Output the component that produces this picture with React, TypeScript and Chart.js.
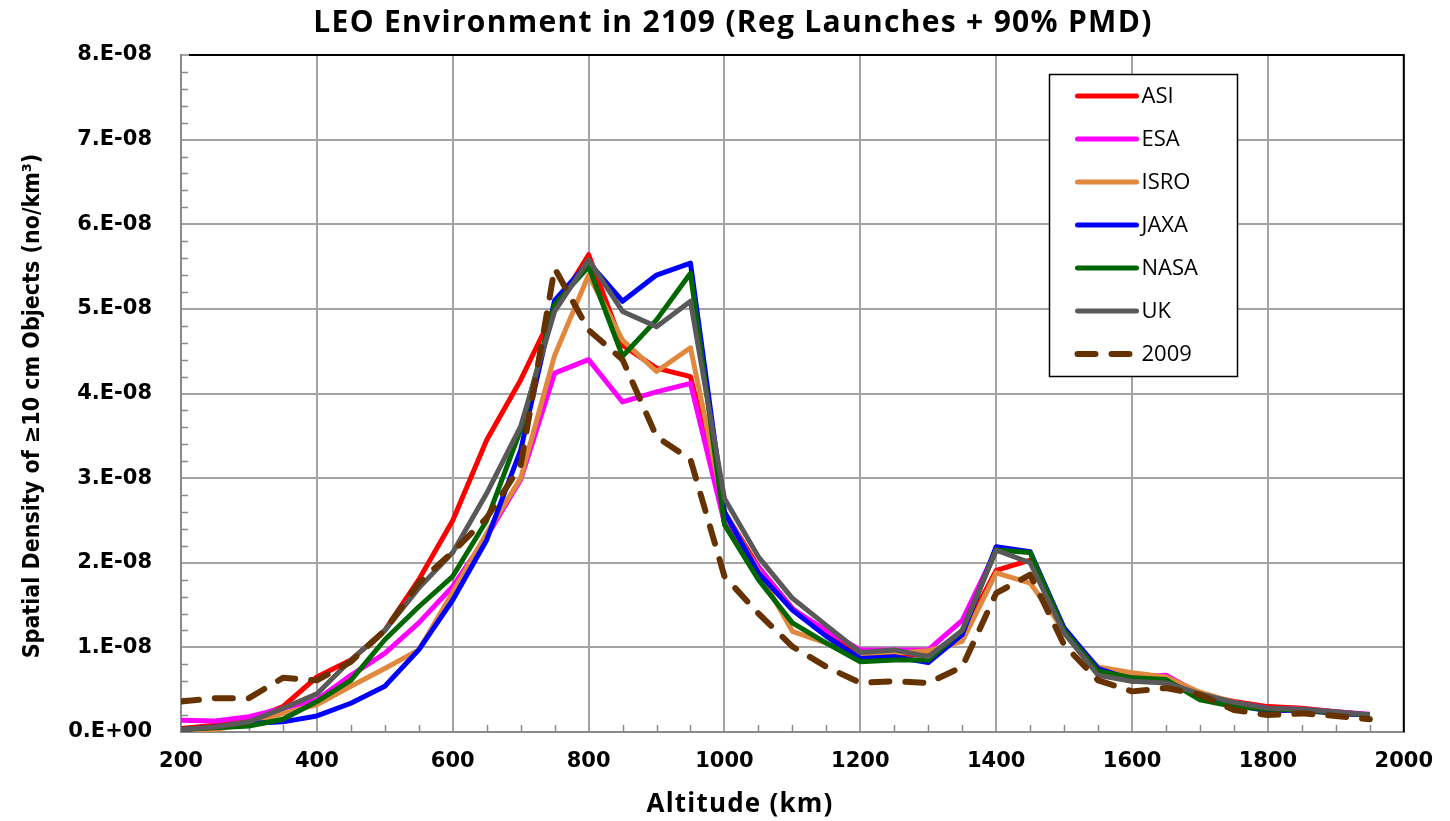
import React, { useEffect, useRef } from "react";
import { Chart, registerables } from "chart.js";

Chart.register(...registerables);

// Altitude bins (km)
const ALTITUDES = [
  200, 250, 300, 350, 400, 450, 500, 550, 600, 650, 700, 750, 800, 850, 900, 950,
  1000, 1050, 1100, 1150, 1200, 1250, 1300, 1350, 1400, 1450, 1500, 1550, 1600,
  1650, 1700, 1750, 1800, 1850, 1900, 1950,
];

// Spatial density in units of 1E-08 objects/km^3
const ASI = [
  0.04, 0.08, 0.14, 0.30, 0.65, 0.85, 1.20, 1.80, 2.50, 3.45, 4.16, 4.99, 5.64, 4.57, 4.30, 4.20,
  2.60, 1.95, 1.46, 1.17, 0.91, 0.93, 0.90, 1.15, 1.91, 2.03, 1.20, 0.70, 0.60, 0.60,
  0.44, 0.36, 0.30, 0.28, 0.24, 0.20,
];
const ESA = [
  0.14, 0.13, 0.18, 0.28, 0.38, 0.67, 0.93, 1.29, 1.72, 2.31, 2.98, 4.24, 4.40, 3.90, 4.02, 4.12,
  2.47, 1.95, 1.45, 1.20, 0.97, 0.97, 0.97, 1.32, 2.15, 2.13, 1.20, 0.72, 0.65, 0.67,
  0.45, 0.35, 0.28, 0.27, 0.24, 0.21,
];
const ISRO = [
  0.00, 0.03, 0.10, 0.22, 0.32, 0.54, 0.75, 0.97, 1.65, 2.35, 3.00, 4.45, 5.40, 4.63, 4.26, 4.54,
  2.60, 1.90, 1.19, 1.05, 0.89, 0.93, 0.96, 1.07, 1.88, 1.76, 1.20, 0.77, 0.70, 0.65,
  0.47, 0.35, 0.27, 0.25, 0.22, 0.20,
];
const JAXA = [
  0.03, 0.06, 0.10, 0.12, 0.19, 0.34, 0.54, 0.97, 1.56, 2.27, 3.33, 5.10, 5.55, 5.09, 5.40, 5.54,
  2.60, 1.88, 1.44, 1.13, 0.87, 0.89, 0.82, 1.15, 2.19, 2.13, 1.23, 0.75, 0.62, 0.60,
  0.42, 0.32, 0.25, 0.26, 0.22, 0.20,
];
const NASA = [
  0.03, 0.05, 0.07, 0.15, 0.36, 0.61, 1.09, 1.48, 1.84, 2.50, 3.57, 5.05, 5.50, 4.44, 4.87, 5.42,
  2.45, 1.80, 1.29, 1.05, 0.83, 0.85, 0.85, 1.20, 2.15, 2.12, 1.20, 0.72, 0.64, 0.62,
  0.38, 0.30, 0.27, 0.26, 0.23, 0.20,
];
const UK = [
  0.03, 0.06, 0.12, 0.28, 0.45, 0.85, 1.20, 1.70, 2.12, 2.82, 3.61, 4.97, 5.58, 4.97, 4.79, 5.09,
  2.76, 2.07, 1.58, 1.26, 0.94, 0.97, 0.89, 1.20, 2.15, 2.00, 1.17, 0.67, 0.60, 0.58,
  0.45, 0.35, 0.28, 0.27, 0.24, 0.20,
];
const Y2009 = [
  0.36, 0.40, 0.40, 0.64, 0.61, 0.83, 1.20, 1.76, 2.13, 2.53, 3.15, 5.48, 4.75, 4.40, 3.49, 3.22,
  1.84, 1.40, 1.01, 0.77, 0.58, 0.60, 0.58, 0.77, 1.64, 1.86, 1.03, 0.61, 0.48, 0.52,
  0.44, 0.26, 0.20, 0.22, 0.19, 0.15,
];

const SERIES_NAMES = ["ASI", "ESA", "ISRO", "JAXA", "NASA", "UK", "2009"];
const SERIES_VALUES = [ASI, ESA, ISRO, JAXA, NASA, UK, Y2009];
const SERIES_COLORS = ["#FF0000", "#FF00FF", "#E0883E", "#0000FF", "#006600", "#595959", "#663300"];

const TITLE = "LEO Environment in 2109 (Reg Launches + 90% PMD)";
const X_TITLE = "Altitude (km)";
const Y_TITLE = "Spatial Density of \u226510 cm Objects (no/km\u00B3)";

const X_MIN = 200;
const X_MAX = 2000;
const X_STEP = 200;
const X_MINOR = 50;
const Y_MIN = 0;
const Y_MAX = 8;
const Y_STEP = 1;
const Y_MINOR = 0.2;

const DASH = [18, 16];

const framePlugin = {
  id: "frame",
  beforeDatasetsDraw(chart: any) {
    const { ctx, chartArea: a, scales } = chart;
    const xs = scales.x;
    const ys = scales.y;
    ctx.save();
    ctx.strokeStyle = "#8a8a8a";
    ctx.lineWidth = 1.5;
    ctx.beginPath();
    const nY = Math.round((Y_MAX - Y_MIN) / Y_MINOR);
    for (let i = 1; i < nY; i++) {
      if (i % Math.round(Y_STEP / Y_MINOR) === 0) continue;
      const py = Math.round(ys.getPixelForValue(Y_MIN + i * Y_MINOR)) + 0.5;
      ctx.moveTo(a.left, py);
      ctx.lineTo(a.left + 7, py);
    }
    const nX = Math.round((X_MAX - X_MIN) / X_MINOR);
    for (let i = 1; i < nX; i++) {
      if (i % Math.round(X_STEP / X_MINOR) === 0) continue;
      const px = Math.round(xs.getPixelForValue(X_MIN + i * X_MINOR)) + 0.5;
      ctx.moveTo(px, a.bottom);
      ctx.lineTo(px, a.bottom - 7);
    }
    ctx.stroke();
    ctx.strokeStyle = "#000";
    ctx.lineWidth = 2;
    ctx.beginPath();
    ctx.moveTo(a.left + 8, a.top);
    ctx.lineTo(a.right, a.top);
    ctx.lineTo(a.right, a.bottom);
    ctx.stroke();
    ctx.restore();
  },
};

const titlesPlugin = {
  id: "titles",
  afterDraw(chart: any) {
    const { ctx } = chart;
    ctx.save();
    ctx.fillStyle = "#000";
    ctx.textAlign = "center";
    ctx.textBaseline = "middle";
    // main title
    ctx.font = "bold 30px 'Open Sans', sans-serif";
    (ctx as any).letterSpacing = "1.3px";
    ctx.fillText(TITLE, 733, 23);
    // x title
    ctx.font = "bold 26px 'Open Sans', sans-serif";
    (ctx as any).letterSpacing = "1.2px";
    ctx.fillText(X_TITLE, 740, 805);
    // y title
    (ctx as any).letterSpacing = "0px";
    ctx.font = "bold 23px 'Liberation Sans Narrow', 'DejaVu Sans Condensed', sans-serif";
    ctx.translate(33, 406);
    ctx.rotate(-Math.PI / 2);
    ctx.fillText(Y_TITLE, 0, 0);
    ctx.restore();
  },
};

const legendPlugin = {
  id: "boxLegend",
  afterDatasetsDraw(chart: any) {
    const { ctx, chartArea: a } = chart;
    const bx = a.left + 868.5;
    const by = a.top + 19.5;
    const bw = 188;
    const bh = 302;
    ctx.save();
    ctx.fillStyle = "#fff";
    ctx.fillRect(bx, by, bw, bh);
    ctx.strokeStyle = "#000";
    ctx.lineWidth = 1.5;
    ctx.strokeRect(bx, by, bw, bh);
    ctx.font = "22px 'Open Sans', sans-serif";
    ctx.textBaseline = "middle";
    ctx.textAlign = "left";
    chart.data.datasets.forEach((ds: any, i: number) => {
      const y = by + 21.5 + i * 43;
      ctx.beginPath();
      ctx.strokeStyle = ds.borderColor;
      ctx.lineWidth = ds.borderWidth;
      ctx.lineCap = "round";
      ctx.setLineDash(ds.borderDash || []);
      ctx.moveTo(bx + 28, y);
      ctx.lineTo(bx + 87, y);
      ctx.stroke();
      ctx.setLineDash([]);
      ctx.fillStyle = "#000";
      ctx.fillText(ds.label, bx + 92, y + 1);
    });
    ctx.restore();
  },
};

export default function App() {
  const canvasRef = useRef<HTMLCanvasElement | null>(null);

  useEffect(() => {
    document.body.style.margin = "0";
    const canvas = canvasRef.current;
    if (!canvas) return;
    const datasets = SERIES_NAMES.map((name, i) => {
      const isDashed = name === "2009";
      return {
        label: name,
        data: ALTITUDES.map((alt, j) => ({ x: alt, y: SERIES_VALUES[i][j] })),
        borderColor: SERIES_COLORS[i],
        backgroundColor: SERIES_COLORS[i],
        borderWidth: isDashed ? 6 : 5,
        borderDash: isDashed ? DASH : undefined,
        borderCapStyle: isDashed ? "round" : "butt",
        borderJoinStyle: "round",
        pointRadius: 0,
        pointHoverRadius: 0,
        tension: 0,
        fill: false,
        order: SERIES_NAMES.length - i,
      };
    });

    const chart = new Chart(canvas, {
      type: "line",
      data: { datasets } as any,
      options: {
        responsive: false,
        devicePixelRatio: 1,
        animation: false,
        layout: { padding: { left: 0, right: 40, top: 55, bottom: 0 } },
        plugins: {
          legend: { display: false },
          tooltip: { enabled: false },
          title: { display: false },
        },
        scales: {
          x: {
            type: "linear",
            min: X_MIN,
            max: X_MAX,
            ticks: {
              stepSize: X_STEP,
              color: "#000",
              padding: 17,
              maxRotation: 0,
              font: { family: "'DejaVu Sans', sans-serif", size: 21, weight: "bold" },
              callback: (v: any) => String(Math.round(Number(v))),
            },
            grid: { color: "#a3a3a3", lineWidth: 2, drawTicks: false, tickLength: 0 },
            border: { color: "#8a8a8a", width: 2 },
            afterFit(scale: any) {
              scale.height = 89;
            },
          },
          y: {
            type: "linear",
            min: Y_MIN,
            max: Y_MAX,
            ticks: {
              stepSize: Y_STEP,
              color: "#000",
              padding: 29,
              font: { family: "'DejaVu Sans', sans-serif", size: 21, weight: "bold" },
              callback: (v: any) => {
                const n = Math.round(Number(v));
                return n === 0 ? "0.E+00" : `${n}.E-08`;
              },
            },
            grid: { color: "#a3a3a3", lineWidth: 2, drawTicks: false, tickLength: 0 },
            border: { color: "#8a8a8a", width: 2 },
            afterFit(scale: any) {
              scale.width = 181;
            },
          },
        },
      } as any,
      plugins: [framePlugin, legendPlugin, titlesPlugin],
    });
    return () => chart.destroy();
  }, []);

  return (
    <div style={{ position: "absolute", left: 0, top: 0, width: 1450, height: 821 }}>
      <canvas ref={canvasRef} width={1450} height={821} style={{ display: "block" }} />
    </div>
  );
}
